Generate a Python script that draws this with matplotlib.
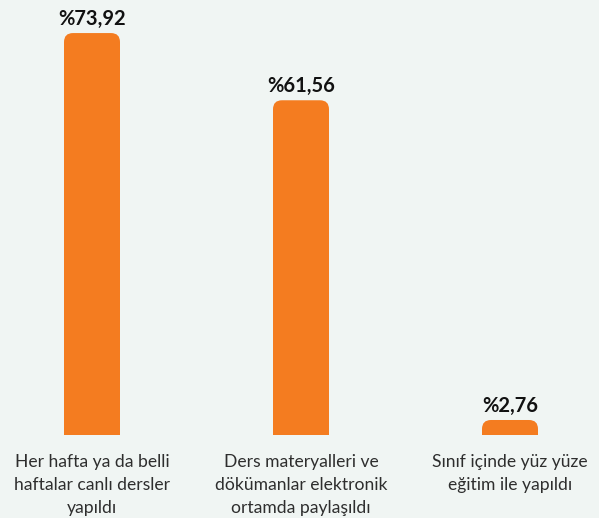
import matplotlib
matplotlib.use("Agg")
import matplotlib.pyplot as plt
from matplotlib.patches import FancyBboxPatch

categories = [
    "Her hafta ya da belli\nhaftalar canlı dersler\nyapıldı",
    "Ders materyalleri ve\ndökümanlar elektronik\nortamda paylaşıldı",
    "Sınıf içinde yüz yüze\neğitim ile yapıldı",
]
values = [73.92, 61.56, 2.76]
value_labels = ["%73,92", "%61,56", "%2,76"]

BG = "#f0f5f3"
ORANGE = "#f47c20"
W, H, DPI = 599, 518, 100

fig = plt.figure(figsize=(W / DPI, H / DPI), dpi=DPI, facecolor=BG)
ax_bottom_px = 83
ax = fig.add_axes([0, ax_bottom_px / H, 1, (H - ax_bottom_px) / H])
ax.set_facecolor(BG)

xlim = (-92 / 209, (W - 92) / 209)
ylim = (0, 80)
ax.set_xlim(*xlim)
ax.set_ylim(*ylim)

# data units per pixel, for round corners that look circular on screen
x_per_px = (xlim[1] - xlim[0]) / W
y_per_px = (ylim[1] - ylim[0]) / (H - ax_bottom_px)
radius_px = 9
bar_w = 56 * x_per_px

for i, v in enumerate(values):
    extra = 20 * y_per_px  # pushed below the axis so only the top corners show
    patch = FancyBboxPatch(
        (i - bar_w / 2, -extra), bar_w, v + extra,
        boxstyle=f"round,pad=0,rounding_size={radius_px * x_per_px}",
        mutation_aspect=y_per_px / x_per_px,
        facecolor=ORANGE, edgecolor="none", clip_on=True,
    )
    ax.add_patch(patch)
    ax.annotate(value_labels[i], (i, v), xytext=(0, 3), textcoords="offset points",
                ha="center", va="bottom", fontsize=14.5, fontweight="bold",
                family="Lato", color="#111111")

ax.set_xticks(range(len(categories)))
ax.set_xticklabels(categories, fontsize=12.6, family="Lato", fontweight="normal",
                   color="#2e2e2e", linespacing=1.52)
ax.tick_params(axis="x", length=0, pad=14)
ax.set_yticks([])
for s in ax.spines.values():
    s.set_visible(False)

fig.savefig("out.png", dpi=DPI, facecolor=BG)
